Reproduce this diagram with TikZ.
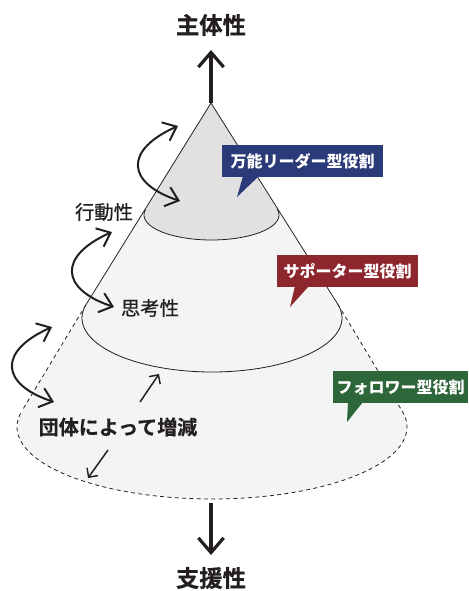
\documentclass[tikz,border=0pt]{standalone}
\usepackage{fontspec}
\newfontfamily\jp{Noto Sans CJK JP}
\newfontfamily\jpmed{Noto Sans CJK JP}[FakeBold=0.7]
\newfontfamily\jpbk{Noto Sans CJK JP Bold}[FakeBold=0.6]
\usetikzlibrary{arrows.meta}
\definecolor{navybox}{HTML}{2B3A78}
\definecolor{redbox}{HTML}{8E272D}
\definecolor{greenbox}{HTML}{2D6639}
\definecolor{ink}{HTML}{231F20}
\definecolor{topfill}{HTML}{E1E1E1}
\definecolor{lowfill}{HTML}{F3F4F4}
\tikzset{
  coneline/.style={draw=ink, line width=0.6pt},
  conedash/.style={draw=ink, line width=0.6pt, dash pattern=on 3pt off 2.5pt},
  bigarrow/.style={draw=ink, line width=2.4pt, -{Straight Barb[length=11pt,width=19pt]}},
  curvearrow/.style={draw=ink, line width=1.5pt, {Straight Barb[length=9pt,width=15pt]}-{Straight Barb[length=9pt,width=15pt]}},
  smallarrow/.style={draw=ink, line width=1.1pt, -{Straight Barb[length=5pt,width=10pt]}},
  bigtitle/.style={text=ink, font=\jpbk\fontsize{17.5}{18}\selectfont},
  sidelabel/.style={text=ink, font=\jpmed\fontsize{14.5}{15}\selectfont},
  boldlabel/.style={text=ink, font=\jpbk\fontsize{15}{16}\selectfont},
  callout/.style={text=white, font=\jp\bfseries\fontsize{12}{12}\selectfont, inner sep=0pt, minimum height=24pt},
}
\begin{document}
\begin{tikzpicture}[x=0.75pt,y=-0.75pt]
\useasboundingbox (0,0) rectangle (468,591);
\coordinate (apex) at (211,103);
% tangent points of the three ellipses seen from the apex
\coordinate (tL) at (145.7,209.5);
\coordinate (tR) at (277.3,209.4);
\coordinate (mL) at (86.1,304.5);
\coordinate (mR) at (337.8,304.3);
\coordinate (bL) at (21.8,411.1);
\coordinate (bR) at (402.1,410.9);
% fills
\fill[lowfill] (apex) -- (bR) -- plot[domain=-12.91:192.77, samples=100, smooth] ({212+195*cos(\x)},{427+72*sin(\x)}) -- cycle;
\fill[topfill] (apex) -- (tR) -- plot[domain=-13.0:192.8, samples=70, smooth] ({211.5+67.5*cos(\x)},{215+25*sin(\x)}) -- cycle;
% outlines
\draw[coneline] (apex) -- (mL);
\draw[coneline] (apex) -- (mR);
\draw[conedash] (mL) -- (bL);
\draw[conedash] (mR) -- (bR);
\draw[coneline] plot[domain=-13.0:192.8, samples=70, smooth] ({211.5+67.5*cos(\x)},{215+25*sin(\x)});
\draw[coneline] plot[domain=-14.66:194.44, samples=90, smooth] ({212+130*cos(\x)},{318+54*sin(\x)});
\draw[conedash] plot[domain=-12.91:192.77, samples=100, smooth] ({212+195*cos(\x)},{427+72*sin(\x)});
% vertical arrows
\coordinate (topTip) at (211,50);
\coordinate (botStart) at (211,503);
\coordinate (botTip) at (211,555);
\draw[bigarrow] (apex) -- (topTip);
\draw[bigarrow] (botStart) -- (botTip);
\node[bigtitle] (labTop) at (211,25) {主体性};
\node[bigtitle] (labBot) at (211,578) {支援性};
% curved arrows
\coordinate (c1a) at (178,126); \coordinate (c1b) at (180,201);
\coordinate (c2a) at (112,232); \coordinate (c2b) at (114,307);
\coordinate (c3a) at (52,327);  \coordinate (c3b) at (54,402);
\draw[curvearrow] (c1a) .. controls (124,150) and (126,183) .. (c1b);
\draw[curvearrow] (c2a) .. controls (58,256) and (60,289) .. (c2b);
\draw[curvearrow] (c3a) .. controls (-2,351) and (0,384) .. (c3b);
% side labels
\node[sidelabel] (labAct) at (104,212) {行動性};
\node[sidelabel] (labThink) at (150,308) {思考性};
\node[boldlabel] (labGroup) at (118,427) {団体によって増減};
% small arrows
\coordinate (s1a) at (140,402); \coordinate (s1b) at (159,374);
\coordinate (s2a) at (108,450); \coordinate (s2b) at (88,478);
\draw[smallarrow] (s1a) -- (s1b);
\draw[smallarrow] (s2a) -- (s2b);
% callouts
\fill[navybox] (243,176) -- (237,197) -- (259,176) -- cycle;
\node[callout, fill=navybox, minimum width=120.75pt] (cNavy) at (302.5,161) {万能リーダー型役割};
\fill[redbox] (295,286) -- (290,307) -- (309,286) -- cycle;
\node[callout, fill=redbox, minimum width=105.75pt] (cRed) at (347.5,271) {サポーター型役割};
\fill[greenbox] (348,402) -- (347,422) -- (363,402) -- cycle;
\node[callout, fill=greenbox, minimum width=101.25pt] (cGreen) at (400.5,387) {フォロワー型役割};
\end{tikzpicture}
\end{document}
